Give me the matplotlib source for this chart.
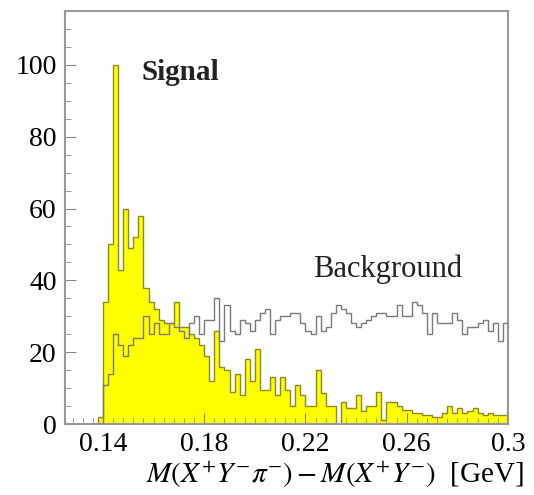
import numpy as np
import matplotlib
matplotlib.use("Agg")
import matplotlib.pyplot as plt
from matplotlib.ticker import MultipleLocator

# bin edges: 0.138 .. 0.300, width 0.002
edges = np.linspace(0.138, 0.300, 82)

signal = [2, 34, 50, 100, 43, 60, 49, 52, 58, 38,
          34, 32, 29, 28, 28, 34, 27, 27, 25, 24,
          22, 19, 12, 26, 16, 15, 9, 14, 8, 18,
          12, 21, 9.5, 9.5, 13, 8, 13, 9.5, 5, 11,
          8, 5, 5, 15, 8.5, 5, 5, 0, 6, 4.5,
          4.5, 8, 3.5, 5, 5, 9, 1, 6, 6, 5,
          4, 4, 3, 3, 2.5, 2.5, 2, 2, 3, 5,
          3, 4.5, 3, 3.5, 4.5, 3, 2.5, 3, 2.5, 2.5,
          2.5]

background = [0, 11, 14, 25, 22, 19, 22, 24, 24, 30,
              25, 28, 25, 25, 28, 27, 26, 24, 28, 30,
              25, 29, 29, 35, 23, 33, 26, 25, 29, 28,
              26, 29, 31, 32, 25, 29, 30, 30, 31, 31,
              28, 26, 25, 30, 26, 27, 31, 33, 32, 31,
              28, 27, 28, 29, 30, 31, 31, 30, 30, 33,
              30, 30, 34, 33, 31, 25, 31, 28, 28, 28,
              31, 29, 25, 27, 27, 28, 29, 26, 28, 23,
              28]

xticks = [0.14, 0.18, 0.22, 0.26, 0.3]
xticklabels = ["0.14", "0.18", "0.22", "0.26", "0.3"]
yticks = [0, 20, 40, 60, 80, 100]

plt.rcParams['font.family'] = ['Liberation Serif', 'DejaVu Serif']
plt.rcParams['mathtext.fontset'] = 'stix'

fig = plt.figure(figsize=(5.34, 4.95), dpi=100)
ax = fig.add_axes([0.1217, 0.1434, 0.8296, 0.8344])

ax.stairs(signal, edges, fill=True, color='#ffff00', zorder=1)
ax.stairs(signal, edges, color='#8a8a20', linewidth=1.0, baseline=0, zorder=2)
ax.stairs(background, edges, color='#7a7a7a', linewidth=1.0, baseline=0, zorder=3)

ax.set_xlim(0.125, 0.3)
ax.set_ylim(0, 115)

ax.set_xticks(xticks)
ax.set_xticklabels(xticklabels)
ax.set_yticks(yticks)
ax.xaxis.set_minor_locator(MultipleLocator(0.004))
ax.yaxis.set_minor_locator(MultipleLocator(5))
ax.tick_params(which='both', direction='in', top=False, right=False,
               color='#888888', labelsize=20, pad=6)
ax.tick_params(which='major', length=8)
ax.tick_params(which='minor', length=4)
for s in ax.spines.values():
    s.set_color('#999999')
    s.set_linewidth(1.5)

ax.text(0.1705, 98, 'Signal', fontsize=21, fontweight='bold',
        ha='center', va='center', color='#222222')
ax.text(0.2525, 43, 'Background', fontsize=22,
        ha='center', va='center', color='#222222')

fig.text(0.627, 0.04,
         r'$M(X^{+}Y^{-}\pi^{-}) - M(X^{+}Y^{-})$  [GeV]',
         fontsize=21, ha='center', va='center')

fig.savefig('out.png', dpi=100)
